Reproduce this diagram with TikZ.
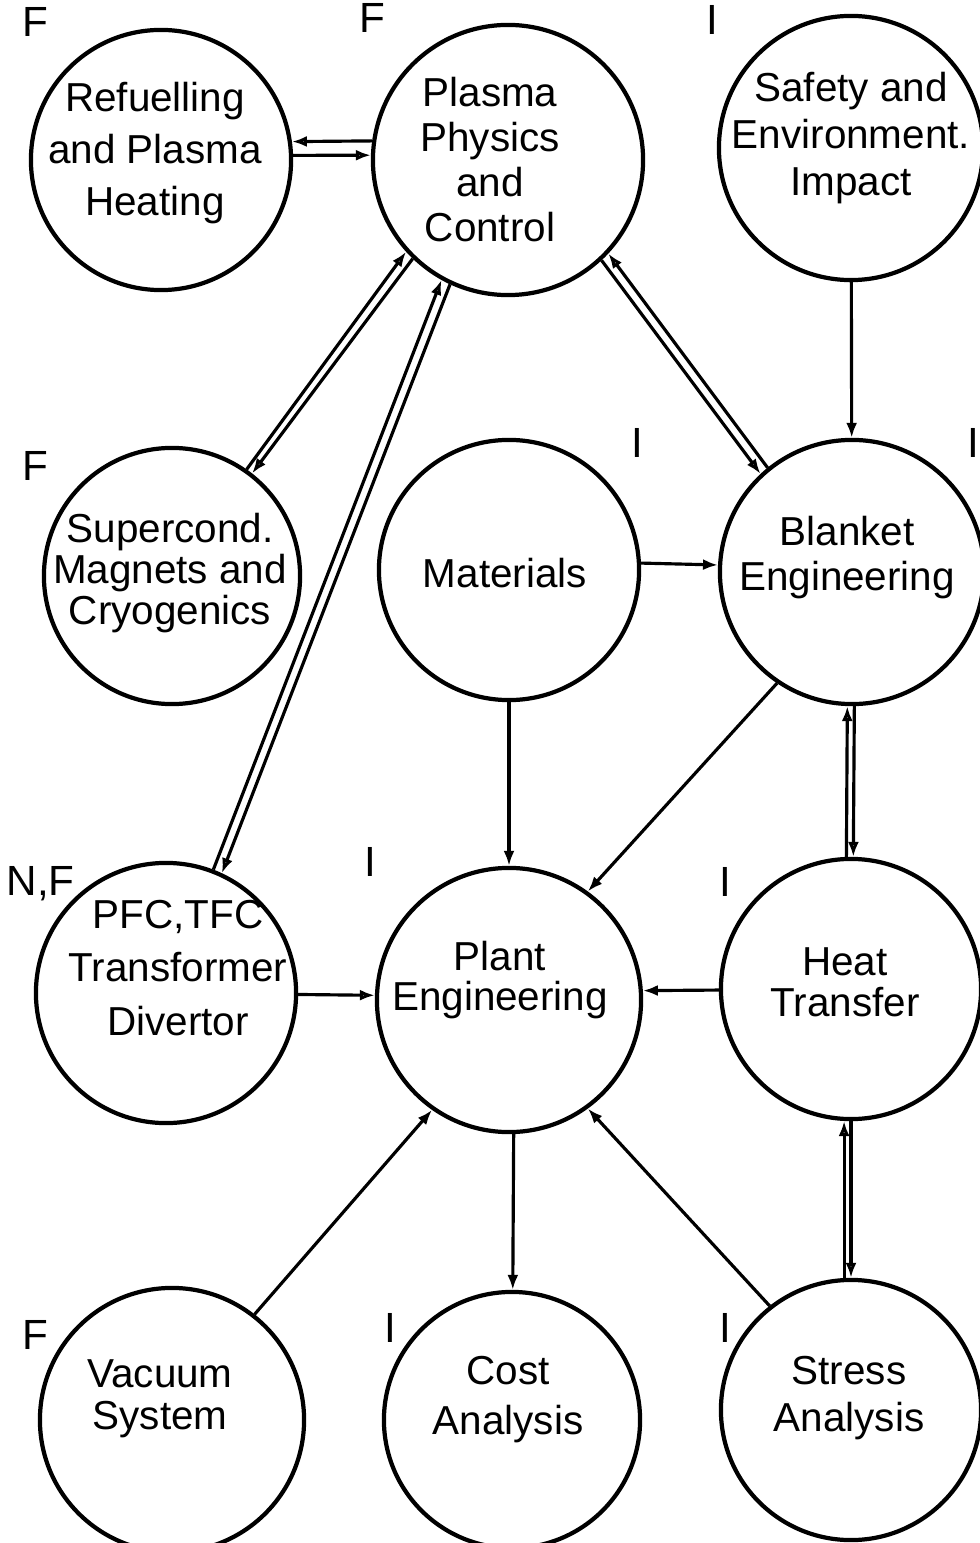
\documentclass[tikz,border=0pt]{standalone}
\usepackage{fontspec}
\setmainfont{Liberation Sans}
\usetikzlibrary{arrows.meta}
\tikzset{
	mycircle/.style={circle,draw,line width=1.2pt,inner sep=0pt,minimum size=#1},
	mytext/.style={align=center,inner sep=0pt,font=\fontsize{11.5}{#1}\selectfont},
	mylabel/.style={inner sep=0pt,font=\fontsize{12}{14}\selectfont},
	myarrow1/.style={->,>={Latex[length=1.5mm,width=1.1mm]},line width=0.9pt},
	myarrow2/.style={->,>={Latex[open,length=1.5mm,width=1.1mm]},line width=0.9pt}
}
\begin{document}
\begin{tikzpicture}[x=0.01cm,y=-0.01cm]
		\useasboundingbox (0,0) rectangle (980,1543);
		% circles
		\node[mycircle=2.6cm](refuel) at (161,160){};
		\node[mycircle=2.7cm](plasma) at (508,160){};
		\node[mycircle=2.64cm](safety) at (851,148){};
		\node[mycircle=2.56cm](supcon) at (172,576){};
		\node[mycircle=2.6cm](mater) at (509,570){};
		\node[mycircle=2.64cm](blanket) at (852,572){};
		\node[mycircle=2.6cm](pfc) at (166,993){};
		\node[mycircle=2.64cm](plant) at (509,1000){};
		\node[mycircle=2.6cm](heat) at (851,989){};
		\node[mycircle=2.64cm](vacuum) at (172,1420){};
		\node[mycircle=2.56cm](cost) at (512,1420){};
		\node[mycircle=2.6cm](stress) at (851,1410){};
		% texts
		\node[mytext=14.7pt](refuelT) at (155,153){Refuelling\\and Plasma\\Heating};
		\node[mytext=12.8pt](plasmaT) at (490,160){Plasma\\Physics\\and\\Control};
		\node[mytext=13.3pt](safetyT) at (851,138){Safety and\\Environment.\\Impact};
		\node[mytext=10pt](supconT) at (170,573){Supercond.\\Magnets and\\Cryogenics};
		\node[mytext=13pt](materT) at (505,573){Materials};
		\node[mytext=12.8pt](blanketT) at (847,558){Blanket\\Engineering};
		\node[mytext=15.3pt](pfcT) at (178,968){PFC,TFC\\Transformer\\Divertor};
		\node[mytext=11.3pt](plantT) at (500,980){Plant\\Engineering};
		\node[mytext=11.6pt](heatT) at (845,982){Heat\\Transfer};
		\node[mytext=11.9pt](vacuumT) at (160,1399){Vacuum\\System};
		\node[mytext=14.2pt](costT) at (508,1400){Cost\\Analysis};
		\node[mytext=13.3pt](stressT) at (849,1398){Stress\\Analysis};
		% status letters
		\node[mylabel](refuelL) at (35,22){F};
		\node[mylabel](plasmaL) at (372,18){F};
		\node[mylabel](safetyL) at (712,20){I};
		\node[mylabel](supconL) at (35,466){F};
		\node[mylabel](materL) at (637,443){I};
		\node[mylabel](blanketL) at (973,443){I};
		\node[mylabel,anchor=west](pfcL) at (6,884){N,F};
		\node[mylabel](plantL) at (370,862){I};
		\node[mylabel](heatL) at (725,882){I};
		\node[mylabel](vacuumL) at (35,1335){F};
		\node[mylabel](costL) at (390,1328){I};
		\node[mylabel](stressL) at (725,1328){I};
		% two-way links
		\draw[myarrow2,<-] (refuel.8) -- (plasma.172);
		\draw[myarrow2] (refuel.2) -- (plasma.178);
		\draw[myarrow2] (supcon.55) -- (plasma.222);
		\draw[myarrow2,<-] (supcon.52) -- (plasma.226);
		\draw[myarrow2] (pfc.69) -- (plasma.241);
		\draw[myarrow2,<-] (pfc.65) -- (plasma.245);
		\draw[myarrow2,<-] (plasma.317) -- (blanket.129);
		\draw[myarrow2] (plasma.313) -- (blanket.133);
		\draw[myarrow2,<-] (blanket.268) -- (heat.92);
		\draw[myarrow2] (blanket.271) -- (heat.89);
		\draw[myarrow2,<-] (heat.267) -- (stress.93);
		\draw[myarrow2] (heat.270) -- (stress.90);
		% one-way links
		\draw[myarrow1] (safety) -- (blanket);
		\draw[myarrow1] (mater.3) -- (blanket.177);
		\draw[myarrow1] (mater) -- (plant);
		\draw[myarrow1] (blanket.236) -- (plant.54);
		\draw[myarrow2] (pfc) -- (plant.178);
		\draw[myarrow1] (heat) -- (plant.4);
		\draw[myarrow1] (plant.272) -- (cost);
		\draw[myarrow1] (vacuum.52) -- (plant.235);
		\draw[myarrow1] (stress.128) -- (plant.306);
\end{tikzpicture}
\end{document}
